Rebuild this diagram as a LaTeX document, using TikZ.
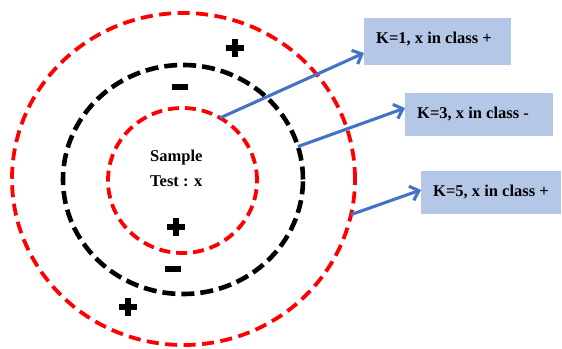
\documentclass[tikz,border=0pt]{standalone}
\usepackage{fontspec}
\setmainfont{Liberation Serif}
\usetikzlibrary{arrows.meta,shapes.geometric,calc}
\definecolor{boxblue}{HTML}{B4C7E7}
\definecolor{arrowblue}{HTML}{4472C4}
\begin{document}
\begin{tikzpicture}[x=1pt,y=1pt,
  ring/.style={ellipse, draw, inner sep=0pt, outer sep=0pt},
  outerring/.style={ring, draw=red, line width=3.8pt, dash pattern=on 12pt off 6.5pt,
    minimum width=343pt, minimum height=332pt},
  midring/.style={ring, draw=black, line width=4.6pt, dash pattern=on 13pt off 6pt,
    minimum width=240pt, minimum height=229pt},
  innerring/.style={ring, draw=red, line width=3.8pt, dash pattern=on 11pt off 6pt,
    minimum width=149pt, minimum height=145pt},
  labelbox/.style={fill=boxblue, inner sep=0pt, outer sep=0pt},
  labeltext/.style={font=\fontsize{16.5}{19}\selectfont\bfseries, anchor=base west, inner sep=0pt},
  link/.style={draw=arrowblue, line width=3.1pt, -{Straight Barb[length=8pt,width=15pt,line width=3.1pt]}},
  plussign/.pic={\fill (-8.75,-2.9) rectangle (8.75,2.9); \fill (-2.9,-8.75) rectangle (2.9,8.75);},
  minussign/.pic={\fill (-7.75,-2.6) rectangle (7.75,2.6);}
]
\useasboundingbox (0,0) rectangle (562,348);

% rings
\node[outerring] (outer) at (183.5,169) {};
\node[midring] (mid) at (183,168.5) {};
\node[innerring] (inner) at (182.5,167.5) {};

% centre text
\node[labeltext] (sample) at (150,186) {Sample};
\node[labeltext] (test) at (150,161) {Test : x};

% class signs
\pic (p1) at (235,300) {plussign};
\pic (m1) at (180,261) {minussign};
\pic (p2) at (176,121) {plussign};
\pic (m2) at (173,79) {minussign};
\pic (p3) at (128,41) {plussign};

% label boxes
\node[labelbox, minimum width=147pt, minimum height=47pt] (b1) at (437.5,306.5) {};
\node[labelbox, minimum width=148pt, minimum height=43pt] (b2) at (479,233.5) {};
\node[labelbox, minimum width=140pt, minimum height=43pt] (b3) at (491,155.5) {};

\node[labeltext] (t1) at ($(b1.west)+(12,-2.5)$) {K=1, x in class +};
\node[labeltext] (t2) at ($(b2.west)+(12,-4.5)$) {K=3, x in class -};
\node[labeltext] (t3) at ($(b3.west)+(12,-4.2)$) {K=5, x in class +};

% connectors
\draw[link] (inner.59) -- ($(b1.south west)!0.255!(b1.north west)$);
\draw[link] (mid.16) -- ($(b2.south west)!0.65!(b2.north west)$);
\draw[link] (outer.-12) -- ($(b3.south west)!0.56!(b3.north west)$);
\end{tikzpicture}
\end{document}
